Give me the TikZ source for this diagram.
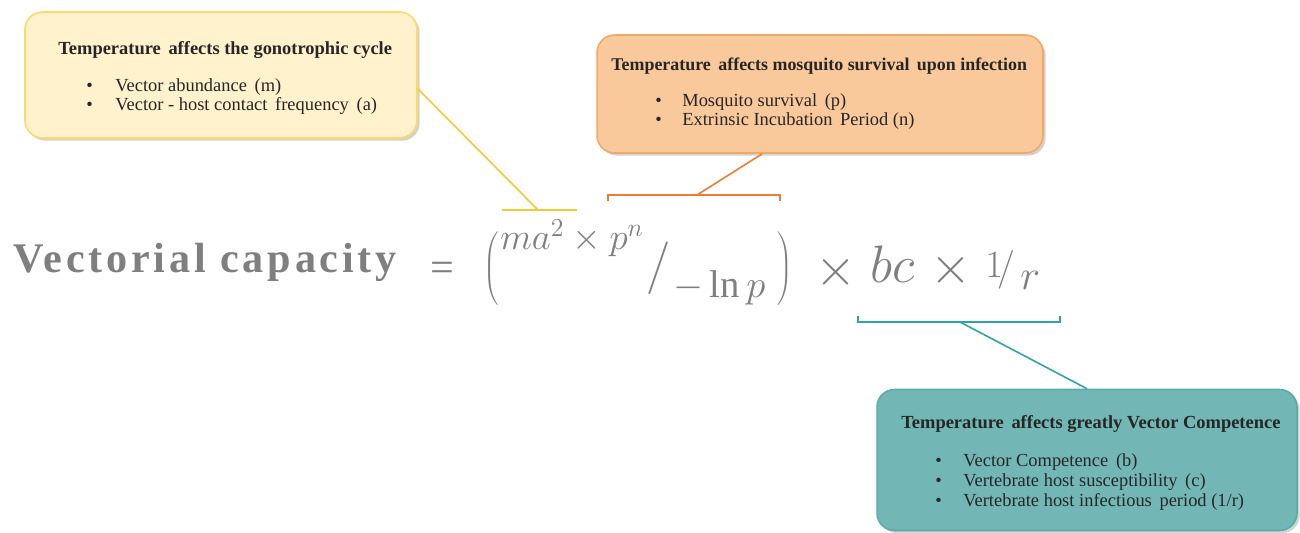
\documentclass[tikz,border=0pt]{standalone}
\usepackage{fix-cm}
\usepackage{fontspec}
\setmainfont{Liberation Serif}
\usetikzlibrary{shadows,positioning}

\definecolor{yellowfill}{HTML}{FFF2CC}
\definecolor{yellowline}{HTML}{FFD966}
\definecolor{yellowlink}{HTML}{F5C834}
\definecolor{orangefill}{HTML}{F9C89B}
\definecolor{orangeline}{HTML}{F2A867}
\definecolor{orangelink}{HTML}{ED7D31}
\definecolor{tealfill}{HTML}{72B7B5}
\definecolor{tealline}{HTML}{5AABAA}
\definecolor{teallink}{HTML}{2EA5A0}
\definecolor{formgray}{HTML}{7F7F7F}
\definecolor{textdark}{HTML}{262626}

\begin{document}
\begin{tikzpicture}[
    x=0.02cm, y=-0.02cm,
    box/.style={rectangle, rounded corners=3.5mm, line width=0.9pt, inner sep=0pt,
        drop shadow={shadow xshift=1.5pt, shadow yshift=-1.5pt, opacity=0.35}},
    head/.style={font=\fontsize{10.5}{12}\selectfont\bfseries, text=textdark, anchor=west, inner sep=0pt},
    item/.style={font=\fontsize{10.5}{12}\selectfont, text=textdark, anchor=west, inner sep=0pt},
    formula/.style={text=formgray, inner sep=0pt},
    link/.style={line width=0.9pt}
]
\useasboundingbox[fill=white] (0,0) rectangle (1300,533);

% ====================
%    Formula
% ====================
\node[formula, anchor=base west, font=\fontsize{24}{24}\selectfont\bfseries\addfontfeature{LetterSpace=9}] (vc) at (13,273) {Vectorial capacity};
\node[formula, font=\fontsize{24}{24}\selectfont] (eq) at (442,272) {=};
\node[formula, font=\fontsize{26}{26}\selectfont, anchor=east] (lpar) at (499,269) {$\nulldelimiterspace=0pt\left(\vrule height 29.5pt depth 16.5pt width 0pt\right.$};
\node[formula, anchor=base west, font=\fontsize{21}{21}\selectfont] (numer) at (500,250) {$ma^2\times p^n$};
\node[formula, font=\fontsize{30}{30}\selectfont] (slash) at (659,268) {$/$};
\node[formula, anchor=base west, font=\fontsize{22}{22}\selectfont] (denom) at (673,297) {$-\ln p$};
\node[formula, font=\fontsize{26}{26}\selectfont, anchor=west] (rpar) at (777,269) {$\nulldelimiterspace=0pt\left.\vrule height 29.5pt depth 16.5pt width 0pt\right)$};
\node[formula, font=\fontsize{30}{30}\selectfont] (times1) at (836,272) {$\times$};
\node[formula, anchor=base west, font=\fontsize{30}{30}\selectfont] (bc) at (870,282) {$bc$};
\node[formula, font=\fontsize{30}{30}\selectfont] (times2) at (951,270) {$\times$};
\node[formula, anchor=base west, font=\fontsize{22}{22}\selectfont] (one) at (985,277) {$1$};
\node[formula, font=\fontsize{22}{22}\selectfont] (slashr) at (1006,270) {$/$};
\node[formula, anchor=base west, font=\fontsize{24}{24}\selectfont] (rr) at (1020,290) {$r$};

% ====================
%    Gonotrophic cycle
% ====================
\node[box, draw=yellowline, fill=yellowfill, minimum width=7.84cm, minimum height=2.52cm] (ybox) at (221,75) {};
\node[head] (yhead) at (58,50) {Temperature\, affects the gonotrophic cycle};
\node[item] (ydot1) at (86,87) {•};
\node[item] (yitem1) at (115,87) {Vector abundance\, (m)};
\node[item] (ydot2) at (86,106) {•};
\node[item] (yitem2) at (115,106) {Vector - host contact\, frequency\, (a)};

\coordinate (ymid) at (538,210);
\draw[link, yellowlink] (502,210) -- (577,210);
\draw[link, yellowlink] (ybox.-4) -- (ymid);

% ====================
%    Mosquito survival
% ====================
\node[box, draw=orangeline, fill=orangefill, minimum width=8.92cm, minimum height=2.36cm] (obox) at (820,94) {};
\node[head, font=\fontsize{10.2}{12}\selectfont\bfseries] (ohead) at (611,66) {Temperature\, affects mosquito survival\, upon infection};
\node[item] (odot1) at (655,102) {•};
\node[item] (oitem1) at (682,102) {Mosquito survival\, (p)};
\node[item] (odot2) at (655,121) {•};
\node[item] (oitem2) at (682,121) {Extrinsic Incubation\, Period (n)};

\coordinate (omid) at (697,195);
\draw[link, orangelink] (608,201) -- (608,195) -- (780,195) -- (780,201);
\draw[link, orangelink] (obox.-134) -- (omid);

% ====================
%    Vector competence
% ====================
\node[box, draw=tealline, fill=tealfill, minimum width=8.4cm, minimum height=2.82cm] (tbox) at (1087,460) {};
\node[head] (thead) at (901,424) {Temperature\, affects greatly Vector Competence};
\node[item] (tdot1) at (935,462) {•};
\node[item] (titem1) at (963,462) {Vector Competence\, (b)};
\node[item] (tdot2) at (935,482) {•};
\node[item] (titem2) at (963,482) {Vertebrate host susceptibility\, (c)};
\node[item] (tdot3) at (935,502) {•};
\node[item] (titem3) at (963,502) {Vertebrate host infectious\, period (1/r)};

\coordinate (tmid) at (960,322);
\draw[link, teallink] (858,316) -- (858,322) -- (1060,322) -- (1060,316);
\draw[link, teallink] (tmid) -- (tbox.north);

\end{tikzpicture}
\end{document}
